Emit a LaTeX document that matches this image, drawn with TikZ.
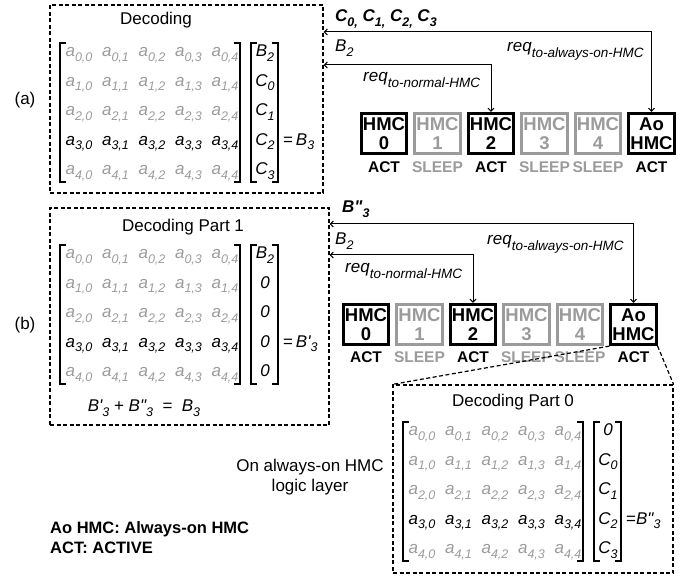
\documentclass[tikz,border=0pt]{standalone}
\usepackage{fontspec}
\setmainfont{Liberation Sans}
\usetikzlibrary{arrows.meta,calc}
\definecolor{lg}{RGB}{155,155,155}
\newcommand{\fs}[1]{\fontsize{#1}{#1}\selectfont}
\newcommand{\mysub}[1]{\raisebox{-0.28em}{\fs{12.5}#1}}
\newcommand{\rsub}[1]{\raisebox{-0.3em}{\fs{13.5}#1}}
\newcommand{\decmat}[9]{%
  \foreach \i in {0,...,4}{%
    \foreach \j in {0,...,4}{%
      \ifnum\i=3\relax\def\mcol{black}\else\def\mcol{lg}\fi
      \node[ent,text=\mcol] (#1-\i-\j) at ({#2+19+36.5*\j},{#3+11+29.5*\i}) {a\mysub{\i,\j}};
    }%
  }%
  \draw[brk] ({#2+6},#3) -- (#2,#3) -- (#2,{#3+139}) -- ({#2+6},{#3+139});
  \draw[brk] ({#2+174},#3) -- ({#2+180},#3) -- ({#2+180},{#3+139}) -- ({#2+174},{#3+139});
  \draw[brk] ({#2+197},#3) -- ({#2+191},#3) -- ({#2+191},{#3+139}) -- ({#2+197},{#3+139});
  \draw[brk] ({#2+212},#3) -- ({#2+218},#3) -- ({#2+218},{#3+139}) -- ({#2+212},{#3+139});
  \node[ent] (#1-v0) at ({#2+205},{#3+11}) {#4};
  \node[ent] (#1-v1) at ({#2+205},{#3+40.5}) {#5};
  \node[ent] (#1-v2) at ({#2+205},{#3+70}) {#6};
  \node[ent] (#1-v3) at ({#2+205},{#3+99.5}) {#7};
  \node[ent] (#1-v4) at ({#2+205},{#3+129}) {#8};
  \node[ent,anchor=mid west] (#1-eq) at ({#2+223},{#3+99.5}) {#9};
}
\begin{document}
\begin{tikzpicture}[x=1pt,y=-1pt,
  ent/.style={inner sep=0pt, anchor=mid, font=\fs{17}\itshape},
  brk/.style={line width=1.5pt},
  dbox/.style={draw, line width=1.2pt, dash pattern=on 4pt off 2.5pt, inner sep=0pt},
  ttl/.style={inner sep=0pt, font=\fs{17}},
  hmc/.style={draw, line width=2.7pt, minimum width=45.5pt, minimum height=40.5pt, inner sep=0pt,
    align=center, font=\fs{18.5}\bfseries\linespread{1.05}\selectfont},
  hmcoff/.style={hmc, draw=lg, text=lg},
  st/.style={inner sep=0pt, font=\fs{15.5}\bfseries},
  stoff/.style={st, text=lg},
  lbl/.style={inner sep=0pt, anchor=base west, font=\fs{17}\itshape},
  arr/.style={line width=1pt, {Straight Barb[length=3pt,width=6pt]}-{Straight Barb[length=3pt,width=6pt]}},
  dline/.style={line width=1.2pt, dash pattern=on 4pt off 2.5pt}]
\useasboundingbox (0,0) rectangle (699,577);

% ---------- (a) ----------
\node[dbox, minimum width=273pt, minimum height=188pt] (boxa) at (186.5,99) {};
\node[ttl] (ta) at (156,20) {Decoding};
\node[ttl] (la) at (25,100) {(a)};
\decmat{ma}{60}{43}{B\mysub{2}}{C\mysub{0}}{C\mysub{1}}{C\mysub{2}}{C\mysub{3}}{{\upshape=}\,B\mysub{3}}

\node[hmc] (a0) at (384,133.5) {HMC\\0};
\node[hmcoff] (a1) at (437.5,133.5) {HMC\\1};
\node[hmc] (a2) at (491,133.5) {HMC\\2};
\node[hmcoff] (a3) at (544.5,133.5) {HMC\\3};
\node[hmcoff] (a4) at (598,133.5) {HMC\\4};
\node[hmc] (a5) at (651.5,133.5) {Ao\\HMC};
\node[st] (sa0) at (384,167) {ACT};
\node[stoff] (sa1) at (437.5,167) {SLEEP};
\node[st] (sa2) at (491,167) {ACT};
\node[stoff] (sa3) at (544.5,167) {SLEEP};
\node[stoff] (sa4) at (598,167) {SLEEP};
\node[st] (sa5) at (651.5,167) {ACT};

\coordinate (pa1) at (boxa.east |- 0,32);
\coordinate (pa2) at (boxa.east |- 0,65);
\draw[arr] (pa1) -| (a5.north);
\draw[arr] (pa2) -| (a2.north);
\node[lbl, font=\fs{17}\bfseries\itshape] (lc) at (335,22) {C\mysub{0,} C\mysub{1,} C\mysub{2,} C\mysub{3}};
\node[lbl] (lb2a) at (335,52) {B\mysub{2}};
\node[lbl] (lra) at (507,52) {req\rsub{to-always-on-HMC}};
\node[lbl] (lrn) at (363,82) {req\rsub{to-normal-HMC}};

% ---------- (b) ----------
\node[dbox, minimum width=279pt, minimum height=217pt] (boxb) at (189.5,316.5) {};
\node[ttl] (tb) at (183,227) {Decoding Part 1};
\node[ttl] (lb) at (25,325) {(b)};
\decmat{mb}{60}{245}{B\mysub{2}}{0}{0}{0}{0}{{\upshape=}\,B\textquotesingle\mysub{3}}
\node[ttl, font=\fs{17}\itshape] (sum) at (144,408) {B\textquotesingle\mysub{3}\ {\upshape+}\ B\textquotedbl\mysub{3}\ \ {\upshape=}\ \ B\mysub{3}};

\node[hmc] (b0) at (366,324.5) {HMC\\0};
\node[hmcoff] (b1) at (419.5,324.5) {HMC\\1};
\node[hmc] (b2) at (473,324.5) {HMC\\2};
\node[hmcoff] (b3) at (526.5,324.5) {HMC\\3};
\node[hmcoff] (b4) at (580,324.5) {HMC\\4};
\node[hmc] (b5) at (633.5,324.5) {Ao\\HMC};
\node[st] (sb0) at (366,357) {ACT};
\node[stoff] (sb1) at (419.5,357) {SLEEP};
\node[st] (sb2) at (473,357) {ACT};
\node[stoff] (sb3) at (526.5,357) {SLEEP};
\node[stoff] (sb4) at (580,357) {SLEEP};
\node[st] (sb5) at (633.5,357) {ACT};

\coordinate (pb1) at (boxb.east |- 0,224);
\coordinate (pb2) at (boxb.east |- 0,255);
\draw[arr] (pb1) -| (b5.north);
\draw[arr] (pb2) -| (b2.north);
\node[lbl, font=\fs{17}\bfseries\itshape] (lbb) at (342,213) {B\textquotedbl\mysub{3}};
\node[lbl] (lb2b) at (335,245) {B\mysub{2}};
\node[lbl] (lrab) at (487,245) {req\rsub{to-always-on-HMC}};
\node[lbl] (lrnb) at (345,273) {req\rsub{to-normal-HMC}};

% ---------- Part 0 ----------
\node[dbox, minimum width=280pt, minimum height=188pt] (box0) at (533,479) {};
\node[ttl] (t0) at (513,402) {Decoding Part 0};
\decmat{m0}{403}{422}{0}{C\mysub{0}}{C\mysub{1}}{C\mysub{2}}{C\mysub{3}}{{\upshape=}B\textquotedbl\mysub{3}}
\draw[dline] (b5.south west) -- (box0.north west);
\draw[dline] (b5.south east) -- (box0.north east);

\node[ttl, align=center, font=\fs{17}\linespread{1.18}\selectfont] (on) at (310,477) {On always-on HMC\\logic layer};
\node[inner sep=0pt, anchor=west, align=left, font=\fs{16.5}\bfseries\linespread{1.2}\selectfont] (leg) at (50,538) {Ao HMC: Always-on HMC\\ACT: ACTIVE};
\end{tikzpicture}
\end{document}
